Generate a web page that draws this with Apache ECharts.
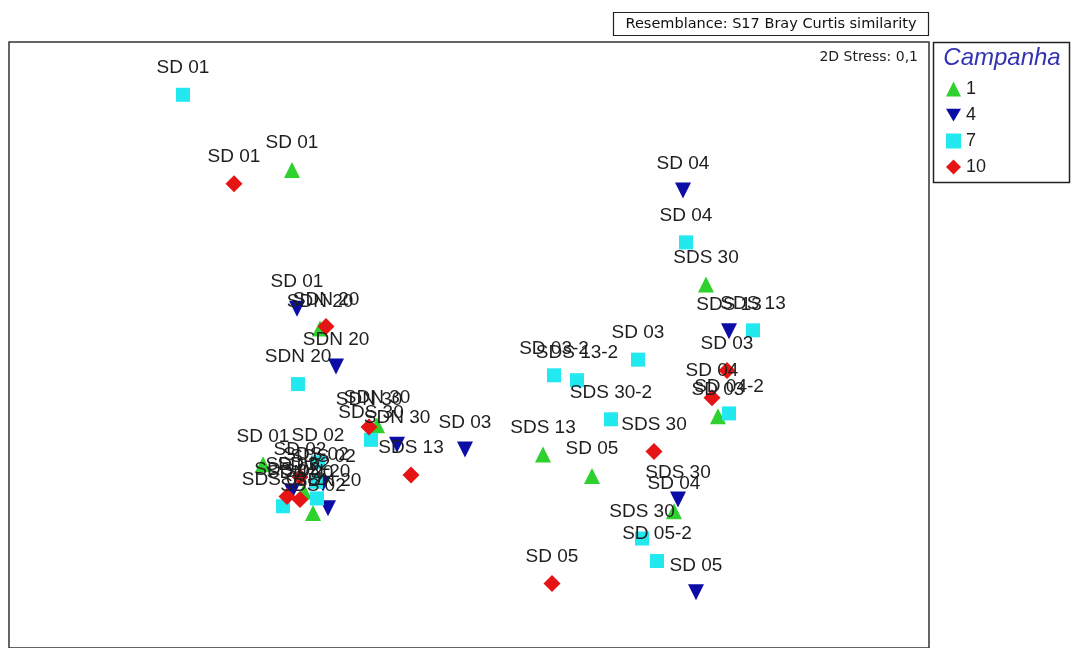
<!DOCTYPE html>
<html>
<head>
<meta charset="utf-8">
<script src="https://cdn.jsdelivr.net/npm/echarts@6/dist/echarts.min.js"></script>
<style>
html,body{margin:0;padding:0;background:#fff;}
#chart{width:1071px;height:648px;}
</style>
</head>
<body>
<div id="chart"></div>
<script>
// MDS coordinates (arbitrary units): [x, y, sample]
const campaigns = ['1', '4', '7', '10'];

const camp1 = [
  [283, 477, 'SD 01'], [311, 315, 'SDN 20'], [368, 216, 'SDN 30'], [254, 176, 'SD 01'],
  [295, 148, 'SD 02'], [304, 126, 'SDS 02'], [534, 186, 'SDS 13'], [583, 164, 'SD 05'],
  [697, 360, 'SDS 30'], [709, 225, 'SD 03'], [665, 128, 'SD 04']
];
const camp4 = [
  [674, 456, 'SD 04'], [720, 312, 'SDS 13'], [288, 335, 'SD 01'], [327, 276, 'SDN 20'],
  [388, 196, 'SDN 30'], [456, 191, 'SD 03'], [669, 140, 'SDS 30'], [687, 45, 'SD 05'],
  [314, 156, 'SDS 02'], [319, 131, 'SDN 20'], [283, 148, 'SD 02']
];
const camp7 = [
  [174, 554, 'SD 01'], [677, 403, 'SD 04'], [744, 313, 'SDS 13'], [629, 283, 'SD 03'],
  [545, 267, 'SD 03-2'], [568, 262, 'SDS 13-2'], [602, 222, 'SDS 30-2'], [720, 228, 'SD 04-2'],
  [633, 100, 'SDS 30'], [648, 77, 'SD 05-2'], [289, 258, 'SDN 20'], [362, 201, 'SDS 30'],
  [309, 178, 'SD 02'], [307, 158, 'SDS 02'], [274, 133, 'SDS 02-2'], [308, 141, 'SDN 20']
];
const camp10 = [
  [225, 463, 'SD 01'], [317, 317, 'SDN 20'], [360, 214, 'SDN 30'], [402, 165, 'SDS 13'],
  [645, 189, 'SDS 30'], [718, 272, 'SD 03'], [703, 244, 'SD 04'], [543, 54, 'SD 05'],
  [291, 163, 'SD 02'], [278, 143, 'SDS 02'], [291, 140, 'SDN 20']
];

const colors = ['#2ed12e', '#0c0ca6', '#22e8f0', '#e61414'];
const downTri = 'path://M0,0 L10,0 L5,8.5 Z';
const symbols = ['triangle', downTri, 'rect', 'diamond'];
const sizes = [16, 16, 14, 17];
const allData = [camp1, camp4, camp7, camp10];

const chart = echarts.init(document.getElementById('chart'));
const FONT = '"Liberation Sans", Arial, sans-serif';
const WIDE = '"DejaVu Sans", sans-serif';

const series = allData.map((d, i) => ({
  name: campaigns[i],
  type: 'scatter',
  data: d,
  symbol: symbols[i],
  symbolSize: sizes[i],
  itemStyle: { color: colors[i], opacity: 1 },
  label: {
    show: true,
    position: 'inside',
    offset: [0, -27],
    formatter: p => p.value[2],
    fontFamily: FONT,
    fontSize: 19,
    color: '#1e1e1e'
  },
  emphasis: { disabled: true },
  animation: false
}));

chart.setOption({
  backgroundColor: '#ffffff',
  animation: false,
  grid: {
    left: 9, top: 42, width: 920, height: 620,
    show: true, borderColor: '#333', borderWidth: 1.5, backgroundColor: '#fff'
  },
  xAxis: { type: 'value', min: 0, max: 920, show: false, splitLine: { show: false } },
  yAxis: { type: 'value', min: -12, max: 608, show: false, splitLine: { show: false } },
  legend: {
    data: campaigns,
    orient: 'vertical',
    left: 941, top: 75,
    itemGap: 8,
    itemWidth: 15, itemHeight: 15,
    textStyle: { fontFamily: FONT, fontSize: 18, color: '#1e1e1e' },
    selectedMode: false
  },
  graphic: [
    { type: 'rect', shape: { x: 613.5, y: 12.5, width: 315, height: 23 },
      style: { fill: '#fff', stroke: '#222', lineWidth: 1.2 } },
    { type: 'text', x: 771, y: 24,
      style: { text: 'Resemblance: S17 Bray Curtis similarity', fontFamily: WIDE, fontSize: 14.5,
        fill: '#111', align: 'center', verticalAlign: 'middle' } },
    { type: 'text', x: 918, y: 57,
      style: { text: '2D Stress: 0,1', fontFamily: WIDE, fontSize: 14,
        fill: '#222', align: 'right', verticalAlign: 'middle' } },
    { type: 'rect', shape: { x: 933.5, y: 42.5, width: 136, height: 140 },
      style: { fill: 'rgba(0,0,0,0)', stroke: '#222', lineWidth: 1.5 } },
    { type: 'text', x: 1002, y: 58,
      style: { text: 'Campanha', fontFamily: FONT, fontSize: 24, fontStyle: 'italic',
        fill: '#3232b4', align: 'center', verticalAlign: 'middle' } }
  ],
  series: series
});
</script>
</body>
</html>
